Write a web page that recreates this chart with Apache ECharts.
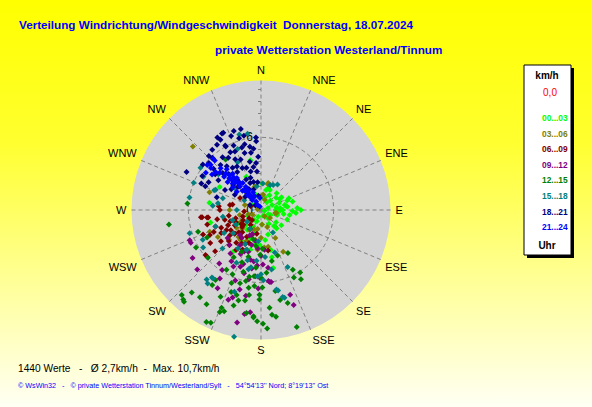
<!DOCTYPE html>
<html lang="de">
<head>
<meta charset="UTF-8">
<title>Verteilung Windrichtung/Windgeschwindigkeit</title>
<script src="https://cdn.jsdelivr.net/npm/echarts@6/dist/echarts.min.js"></script>
<style>
  html, body { margin: 0; padding: 0; }
  #main {
    width: 592px; height: 407px;
    background: linear-gradient(to bottom, #ffff00 0%, #ffff30 35%, #ffffa0 72%, #fffff4 100%);
  }
</style>
</head>
<body>
<div id="main"></div>
<script>
var directions = ['N', 'NNE', 'NE', 'ENE', 'E', 'ESE', 'SE', 'SSE', 'S', 'SSW', 'SW', 'WSW', 'W', 'WNW', 'NW', 'NNW'];
var periods = ['00...03', '03...06', '06...09', '09...12', '12...15', '15...18', '18...21', '21...24'];
var periodColors = ['#00ff00', '#808000', '#800000', '#800080', '#008000', '#008080', '#000080', '#0000ff'];
var radiusTicks = [0, 6];

// each point: [Geschwindigkeit km/h, Richtung in Grad]
var wind0003 = [[1.8,90],[3.0,87],[2.2,83],[1.6,69],[1.6,51],[2.0,58],[1.0,66],[0.9,117],[1.6,129],[2.1,127],
  [1.1,17],[1.9,18],[1.9,43],[2.0,78],[1.4,107],[1.8,24],[0.6,74],[4.2,348],[2.2,2],[1.7,14],[2.1,81],[3.0,336],
  [3.9,299],[4.3,278],[4.3,256],[4.2,214],[4.0,167],[4.9,168],[0.3,100],[0.8,37],[1.2,90],[1.7,141],[1.2,176],
  [2.4,100],[2.5,67],[1.3,342],[0.8,302],[0.6,203],[2.5,172],[2.9,182],[2.1,164],[1.9,195],[1.2,249],[3.4,166],
  [1.5,95],[1.3,80],[2.6,92],[0.9,140],[1.1,45],[2.3,110],[1.4,30],[0.5,160],[1.0,200],[2.7,75],
  [1.6,85],[2.9,95],[1.9,100],[2.3,70],[0.7,120],[1.3,150],[2.0,140],[3.3,90],[1.8,60],[1.0,10],
  [1.5,205],[2.0,215],[2.5,200],[1.8,225],[2.8,190],[1.3,230],[3.0,210],[2.2,240],[1.0,215],[3.4,195]];
var wind0306 = [[7.7,313],[2.3,15],[1.2,102],[1.3,8],[3.9,152],[3.1,175],[4.6,247],[4.2,238],[3.1,169],[1.3,101],
  [2.2,15],[1.2,4],[4.5,289],[2.0,345],[0.3,280],[1.2,176],[1.3,223],[1.8,257],[1.0,132],[1.4,287],[2.5,191],
  [3.5,199],[2.5,234],[2.6,270],[2.6,153],[1.9,210],[2.2,225],[3.0,215],[1.6,190],[0.8,240],[2.8,205],[3.3,185],
  [1.5,160],[2.0,320],[3.6,228],[0.9,20],[1.7,200],[2.3,180],[0.6,150],[1.1,250],[2.9,220],[1.9,240]];
var wind0609 = [[5.0,263],[5.9,231],[5.9,229],[5.0,237],[4.9,263],[4.5,262],[5.2,247],[5.1,228],[3.3,231],[2.9,228],
  [2.2,200],[2.0,190],[3.4,170],[1.1,222],[2.6,279],[3.4,270],[2.4,281],[3.5,275],[0.9,290],[2.0,300],[4.4,262],
  [3.7,258],[3.6,246],[3.0,245],[2.5,240],[2.0,235],[1.6,250],[2.8,215],[3.2,210],[2.4,220],[1.8,210],[3.9,222],
  [4.2,232],[3.1,255],[2.7,260],[1.4,265],[2.2,252],[3.8,240],[4.7,244],[2.9,200],[3.6,205],[1.9,230],[2.6,225],
  [3.4,217],[1.2,235],[4.0,250],[3.0,236],[2.3,244],[2.1,228],[1.5,215],[3.7,226],[4.3,245],[3.3,240],[2.7,250],
  [1.7,240],[4.6,255],[2.5,208],[3.9,212]];
var wind0912 = [[6.6,211],[7.4,209],[5.6,181],[6.0,173],[7.9,200],[8.5,186],[9.5,192],[7.4,161],[8.3,161],[6.4,245],
  [6.9,235],[7.2,227],[8.7,189],[7.6,198],[4.5,178],[5.9,174],[4.9,189],[6.4,247],[5.9,213],[3.4,211],[4.6,184],
  [4.8,173],[2.3,204],[3.6,197],[3.9,222],[6.0,172],[3.0,195],[4.0,205],[5.0,200],[4.2,192],[3.2,185],[2.8,215],
  [5.4,195],[4.4,215],[3.6,230],[2.6,190],[5.2,206],[4.7,198],[3.8,180],[2.1,200],[5.8,190],[3.3,175],[6.2,200],
  [4.3,188],[3.7,202],[5.6,218],[6.8,195],[7.2,190],[3.1,205],[4.9,210],[5.5,185],[2.7,220],[6.5,182]];
var wind1215 = [[9.6,223],[8.9,220],[9.9,220],[8.8,215],[10.3,206],[8.7,202],[9.1,202],[8.9,200],[6.5,202],[7.2,200],
  [7.3,196],[7.7,194],[7.6,190],[8.9,184],[9.2,182],[8.6,188],[6.5,189],[6.3,185],[6.4,179],[7.4,181],[7.0,181],
  [8.1,175],[8.7,174],[8.9,172],[9.8,177],[10.1,163],[6.2,154],[8.0,164],[5.6,180],[5.6,190],[7.7,261],[6.1,275],
  [9.8,221],[10.2,204],[8.8,184],[9.4,179],[6.1,148],[6.6,150],[4.2,148],[3.7,181],[6.3,196],[6.9,213],[7.4,213],
  [5.5,251],[6.2,240],[5.0,243],[5.9,228],[5.8,204],[5.6,152],[5.5,186],[5.1,325],[4.5,210],[4.0,195],[3.5,200],
  [4.8,185],[5.2,175],[3.0,188],[4.3,168],[6.8,170],[7.9,205],[3.8,205],[4.6,200],[5.3,196],[6.0,192],[2.5,195],
  [3.2,178],[7.1,188],[5.7,210],[8.2,196],[9.0,210],[7.6,168],[4.0,160]];
var wind1518 = [[6.5,344],[6.1,305],[6.0,292],[6.0,280],[5.4,339],[4.2,293],[6.4,350],[4.4,334],[2.3,26],[4.1,294],
  [3.3,287],[2.2,20],[3.6,279],[4.0,275],[3.7,211],[4.3,195],[5.5,183],[5.3,180],[3.7,162],[5.2,155],[6.9,216],
  [2.1,152],[5.4,243],[5.7,237],[7.3,218],[5.0,192],[4.8,190],[6.8,168],[7.5,165],[10.7,192],[6.9,215],[7.5,216],
  [7.1,198],[6.7,169],[7.4,166],[5.8,178],[2.2,4],[2.5,33],[3.0,230],[2.5,250],[2.0,270],[3.2,260],[1.6,300],
  [2.8,310],[3.5,200],[4.5,225],[4.0,250],[3.8,320],[5.5,300],[6.2,252],[2.6,185],[1.8,210],[3.1,205],[4.2,185],
  [2.4,240],[3.6,238],[4.8,205],[1.5,230],[5.0,170],[3.9,175],[2.0,350],[4.6,310]];
var wind1821 = [[7.1,334],[6.9,341],[6.9,346],[6.0,356],[5.7,356],[6.1,331],[6.0,331],[6.5,326],[6.4,321],[5.4,332],
  [5.3,336],[5.4,343],[5.3,350],[4.8,350],[5.4,324],[5.9,317],[6.1,308],[5.8,312],[4.1,347],[3.9,354],[4.1,331],
  [3.8,336],[3.7,341],[4.4,314],[6.9,297],[3.2,354],[2.8,342],[2.4,345],[2.3,353],[5.4,294],[5.0,293],[3.7,328],
  [3.5,319],[2.8,334],[2.4,338],[3.4,299],[3.8,286],[2.7,315],[1.5,320],[7.1,333],[7.0,329],[6.3,347],[5.8,337],
  [5.1,328],[4.6,322],[4.0,318],[3.2,322],[2.0,330],[3.0,305],[4.8,308],[4.5,338],[4.9,344],[5.0,318],[6.2,316],
  [2.5,300],[1.8,340],[1.2,350],[4.3,305],[3.3,345],[0.6,310],[1.0,295],[6.6,338],[6.2,343],[5.6,346],[5.1,353],
  [4.4,357],[3.6,350],[4.2,326],[4.7,333],[5.2,311],[5.6,300],[4.9,298],[3.1,312],[2.2,325],[1.7,310],[6.7,330]];
var wind2124 = [[5.6,317],[5.8,310],[5.4,310],[5.0,306],[4.8,316],[3.9,318],[3.3,323],[2.7,326],[2.3,327],[1.6,336],
  [1.3,335],[1.5,324],[1.0,355],[3.0,309],[2.5,307],[3.6,310],[2.0,324],[1.1,318],[5.8,317],[5.6,312],[5.5,304],
  [4.4,320],[3.5,320],[3.1,318],[2.9,322],[2.1,320],[1.8,322],[0.8,330],[0.5,325],[4.2,316],[3.7,315],[2.6,318],
  [1.7,318],[1.4,320],[4.6,312],[0.3,340],[3.4,316],[2.8,320],[2.2,316],[3.8,322],[4.1,312],[1.9,328],[1.2,330],
  [4.9,310],[3.2,313]];
var windData = [wind0003, wind0306, wind0609, wind0912, wind1215, wind1518, wind1821, wind2124];

var font = 'Liberation Sans, Arial, sans-serif';
var chart = echarts.init(document.getElementById('main'), null, { renderer: 'svg' });

var option = {
  animation: false,
  textStyle: { fontFamily: font },
  title: [
    {
      text: 'Verteilung Windrichtung/Windgeschwindigkeit  Donnerstag, 18.07.2024',
      left: 19, top: 18, padding: 0,
      textStyle: { color: '#0000ff', fontSize: 11.7, fontWeight: 'bold', fontFamily: font }
    },
    {
      text: 'private Wetterstation Westerland/Tinnum',
      left: 215, top: 43, padding: 0,
      textStyle: { color: '#0000ff', fontSize: 11.7, fontWeight: 'bold', fontFamily: font }
    },
    {
      text: '1440 Werte   -   Ø 2,7km/h  -  Max. 10,7km/h',
      left: 18, top: 363, padding: 0,
      textStyle: { color: '#000', fontSize: 10.2, fontWeight: 'normal', fontFamily: font }
    },
    {
      text: "© WsWin32   -   © private Wetterstation Tinnum/Westerland/Sylt   -   54°54'13'' Nord; 8°19'13'' Ost",
      left: 18, top: 382, padding: 0,
      textStyle: { color: '#0000ff', fontSize: 7.2, fontWeight: 'normal', fontFamily: font }
    }
  ],
  // polar 0 only paints the grey disc, polar 1 carries grid and data
  polar: [
    { center: [261, 210], radius: 129.5 },
    { center: [261, 210], radius: 129.5 }
  ],
  angleAxis: [
    {
      polarIndex: 0, z: 0,
      type: 'value', min: 0, max: 360, interval: 22.5, startAngle: 90,
      axisLine: { show: false }, axisTick: { show: false }, axisLabel: { show: false },
      splitLine: { show: false },
      splitArea: { show: true, areaStyle: { color: ['#d4d4d4'] } }
    },
    {
      polarIndex: 1, z: 1,
      type: 'value', min: 0, max: 360, interval: 22.5,
      startAngle: 90, clockwise: true,
      axisLine: { show: false },
      axisTick: { show: false },
      axisLabel: {
        margin: 5, color: '#000', fontSize: 11, fontFamily: font,
        formatter: function (v) {
          var i = Math.round(v / 22.5);
          return i < 16 ? directions[i] : '';
        }
      },
      splitLine: { show: true, lineStyle: { color: '#808080', width: 1, type: [4, 3] } },
      splitArea: { show: false }
    }
  ],
  radiusAxis: [
    {
      polarIndex: 0, z: 0,
      type: 'value', min: 0, max: 10.7, interval: 6,
      axisLine: { show: false }, axisTick: { show: false }, axisLabel: { show: false },
      splitLine: { show: false }
    },
    {
      polarIndex: 1, z: 1,
      type: 'value', min: 0, max: 10.7, interval: 6,
      axisLine: { show: false },
      axisTick: { show: false },
      minorTick: { show: true, splitNumber: 6, length: 3, lineStyle: { color: '#808080' } },
      axisLabel: {
        color: '#000', fontSize: 12, fontFamily: font,
        formatter: function (v) { return radiusTicks.indexOf(v) >= 0 ? String(v) : ''; }
      },
      splitLine: { show: true, lineStyle: { color: ['#808080', '#808080', 'rgba(0,0,0,0)'], type: [4, 3] } }
    }
  ],
  legend: {
    orient: 'vertical', left: 537, top: 113, padding: 0, z: 5,
    itemWidth: 0, itemHeight: 10, itemGap: 5.6, icon: 'none',
    selectedMode: false,
    textStyle: { fontSize: 8.4, fontWeight: 'bold', lineHeight: 10, fontFamily: 'Liberation Sans Narrow, ' + font },
    data: periods.map(function (p, i) {
      return { name: p, textStyle: { color: periodColors[i] } };
    })
  },
  graphic: [
    { type: 'rect', z: 1, shape: { x: 527, y: 68, width: 47, height: 190 }, style: { fill: '#000' } },
    { type: 'rect', z: 2, shape: { x: 524, y: 65, width: 47, height: 190 }, style: { fill: '#fff', stroke: '#000', lineWidth: 1 } },
    { type: 'text', z: 3, x: 547, y: 75, style: { text: 'km/h', fill: '#000', font: 'bold 10px ' + font, align: 'center', verticalAlign: 'middle' } },
    { type: 'text', z: 3, x: 550, y: 92, style: { text: '0,0', fill: '#ff0000', font: '10px ' + font, align: 'center', verticalAlign: 'middle' } },
    { type: 'text', z: 3, x: 547, y: 245, style: { text: 'Uhr', fill: '#000', font: 'bold 10px ' + font, align: 'center', verticalAlign: 'middle' } }
  ],
  series: periods.map(function (p, i) {
    return {
      name: p,
      type: 'scatter',
      coordinateSystem: 'polar',
      polarIndex: 1,
      z: 3,
      symbol: 'diamond',
      symbolSize: 6,
      itemStyle: { color: periodColors[i], opacity: 1 },
      data: windData[i]
    };
  })
};

chart.setOption(option);
</script>
</body>
</html>
